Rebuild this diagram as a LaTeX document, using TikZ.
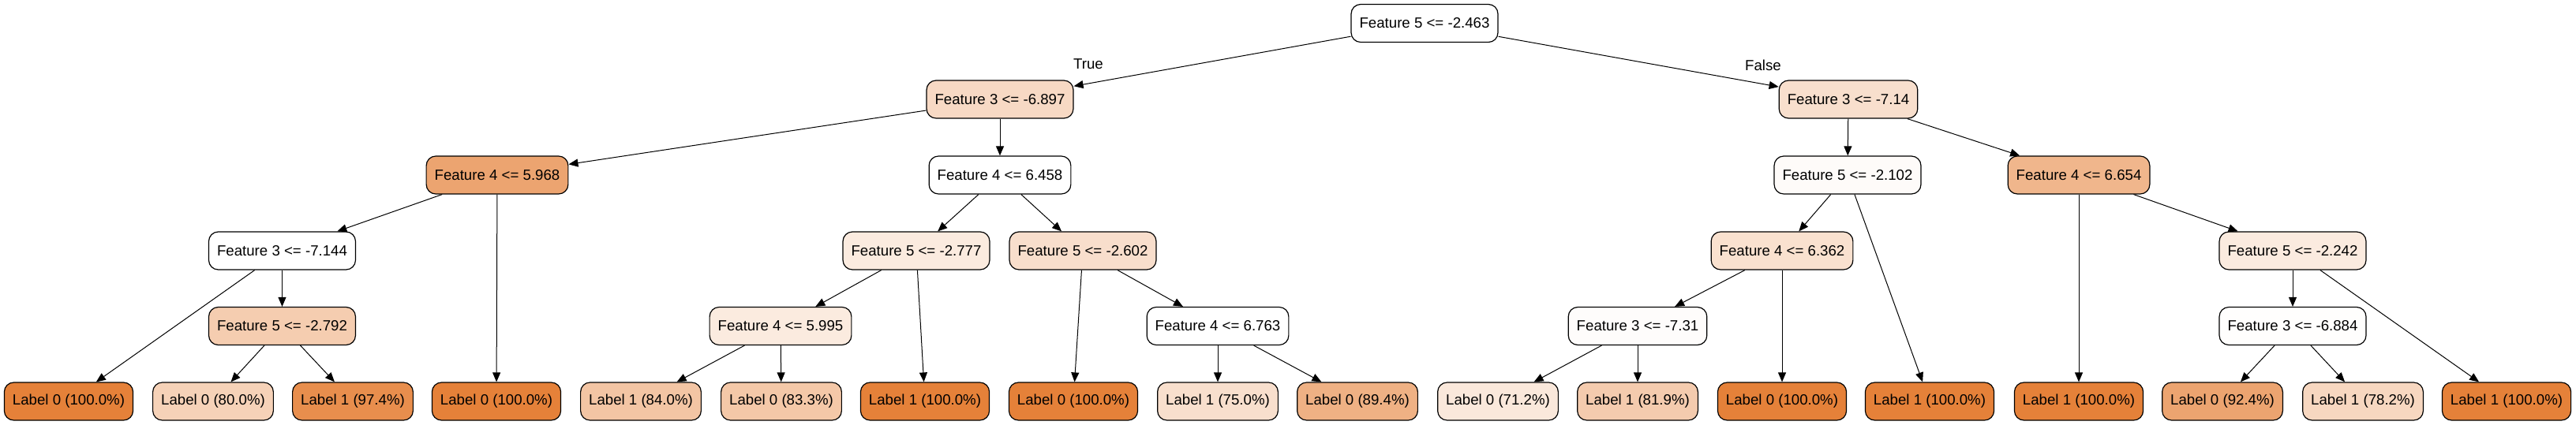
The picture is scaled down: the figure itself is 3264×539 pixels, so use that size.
\documentclass[tikz,border=0pt]{standalone}
\usepackage{fontspec}
\setmainfont{Liberation Sans}
\usepackage{tikz}
\usetikzlibrary{positioning, arrows.meta}
\usepackage{xcolor}
\definecolor{dtorange}{HTML}{E58139}

\begin{document}
\begin{tikzpicture}[x=0.5pt, y=-0.5pt,
    nd/.style={draw=black, line width=0.6pt, rounded corners=6pt, font=\fontsize{9.33}{11}\selectfont,
      inner xsep=5.25pt, inner ysep=0pt, minimum height=24pt},
    br/.style={-{Triangle[length=6pt, width=5pt]}, line width=0.5pt},
    elab/.style={font=\fontsize{9.33}{11}\selectfont, inner sep=0pt}]
  \useasboundingbox (0,0) rectangle (3264,539);
  % splits
  \node[nd, fill=white] (root) at (1805,29.5) {Feature 5 <= -2.463};
  \node[nd, fill=dtorange!30!white] (a) at (1267,126) {Feature 3 <= -6.897};
  \node[nd, fill=dtorange!25!white] (b) at (2342,126) {Feature 3 <= -7.14};
  \node[nd, fill=dtorange!72!white] (aa) at (630,222) {Feature 4 <= 5.968};
  \node[nd, fill=white] (ab) at (1267,222) {Feature 4 <= 6.458};
  \node[nd, fill=dtorange!3!white] (ba) at (2341,222) {Feature 5 <= -2.102};
  \node[nd, fill=dtorange!58!white] (bb) at (2634,222) {Feature 4 <= 6.654};
  \node[nd, fill=white] (aaa) at (357.5,318) {Feature 3 <= -7.144};
  \node[nd, fill=dtorange!16!white] (aba) at (1161,318) {Feature 5 <= -2.777};
  \node[nd, fill=dtorange!26!white] (abb) at (1372,318) {Feature 5 <= -2.602};
  \node[nd, fill=dtorange!24!white] (baa) at (2258,318) {Feature 4 <= 6.362};
  \node[nd, fill=dtorange!16!white] (bbb) at (2905,318) {Feature 5 <= -2.242};
  \node[nd, fill=dtorange!40!white] (aaab) at (357.5,413.5) {Feature 5 <= -2.792};
  \node[nd, fill=dtorange!16!white] (abaa) at (989,413.5) {Feature 4 <= 5.995};
  \node[nd, fill=white] (abbb) at (1543,413.5) {Feature 4 <= 6.763};
  \node[nd, fill=dtorange!2!white] (baaa) at (2075,413.5) {Feature 3 <= -7.31};
  \node[nd, fill=dtorange!1!white] (bbba) at (2905,413.5) {Feature 3 <= -6.884};
  % leaves
  \node[nd, fill=dtorange] (l1) at (87,509) {Label 0 (100.0\%)};
  \node[nd, fill=dtorange!36!white] (l2) at (270,509) {Label 0 (80.0\%)};
  \node[nd, fill=dtorange!90!white] (l3) at (447,509) {Label 1 (97.4\%)};
  \node[nd, fill=dtorange] (l4) at (629,509) {Label 0 (100.0\%)};
  \node[nd, fill=dtorange!46!white] (l5) at (812,509) {Label 1 (84.0\%)};
  \node[nd, fill=dtorange!44!white] (l6) at (990,509) {Label 0 (83.3\%)};
  \node[nd, fill=dtorange] (l7) at (1172,509) {Label 1 (100.0\%)};
  \node[nd, fill=dtorange] (l8) at (1360,509) {Label 0 (100.0\%)};
  \node[nd, fill=dtorange!25!white] (l9) at (1543,509) {Label 1 (75.0\%)};
  \node[nd, fill=dtorange!62!white] (l10) at (1720,509) {Label 0 (89.4\%)};
  \node[nd, fill=dtorange!18!white] (l11) at (1898,509) {Label 0 (71.2\%)};
  \node[nd, fill=dtorange!41!white] (l12) at (2075,509) {Label 1 (81.9\%)};
  \node[nd, fill=dtorange] (l13) at (2258,509) {Label 0 (100.0\%)};
  \node[nd, fill=dtorange] (l14) at (2445,509) {Label 1 (100.0\%)};
  \node[nd, fill=dtorange] (l15) at (2634,509) {Label 1 (100.0\%)};
  \node[nd, fill=dtorange!72!white] (l16) at (2816,509) {Label 0 (92.4\%)};
  \node[nd, fill=dtorange!32!white] (l17) at (2994,509) {Label 1 (78.2\%)};
  \node[nd, fill=dtorange] (l18) at (3176,509) {Label 1 (100.0\%)};
  % branch labels
  \node[elab] (ltrue) at (1379,81) {True};
  \node[elab] (lfalse) at (2234,83) {False};
  % branches
  \draw[br] (root) -- (a);
  \draw[br] (root) -- (b);
  \draw[br] (a) -- (aa);
  \draw[br] (a) -- (ab);
  \draw[br] (b) -- (ba);
  \draw[br] (b) -- (bb);
  \draw[br] (aa) -- (aaa);
  \draw[br] (aa) -- (l4);
  \draw[br] (ab) -- (aba);
  \draw[br] (ab) -- (abb);
  \draw[br] (ba) -- (baa);
  \draw[br] (ba) -- (l14);
  \draw[br] (bb) -- (l15);
  \draw[br] (bb) -- (bbb);
  \draw[br] (aaa) -- (l1);
  \draw[br] (aaa) -- (aaab);
  \draw[br] (aaab) -- (l2);
  \draw[br] (aaab) -- (l3);
  \draw[br] (aba) -- (abaa);
  \draw[br] (aba) -- (l7);
  \draw[br] (abaa) -- (l5);
  \draw[br] (abaa) -- (l6);
  \draw[br] (abb) -- (l8);
  \draw[br] (abb) -- (abbb);
  \draw[br] (abbb) -- (l9);
  \draw[br] (abbb) -- (l10);
  \draw[br] (baa) -- (baaa);
  \draw[br] (baa) -- (l13);
  \draw[br] (baaa) -- (l11);
  \draw[br] (baaa) -- (l12);
  \draw[br] (bbb) -- (bbba);
  \draw[br] (bbb) -- (l18);
  \draw[br] (bbba) -- (l16);
  \draw[br] (bbba) -- (l17);
\end{tikzpicture}
\end{document}
